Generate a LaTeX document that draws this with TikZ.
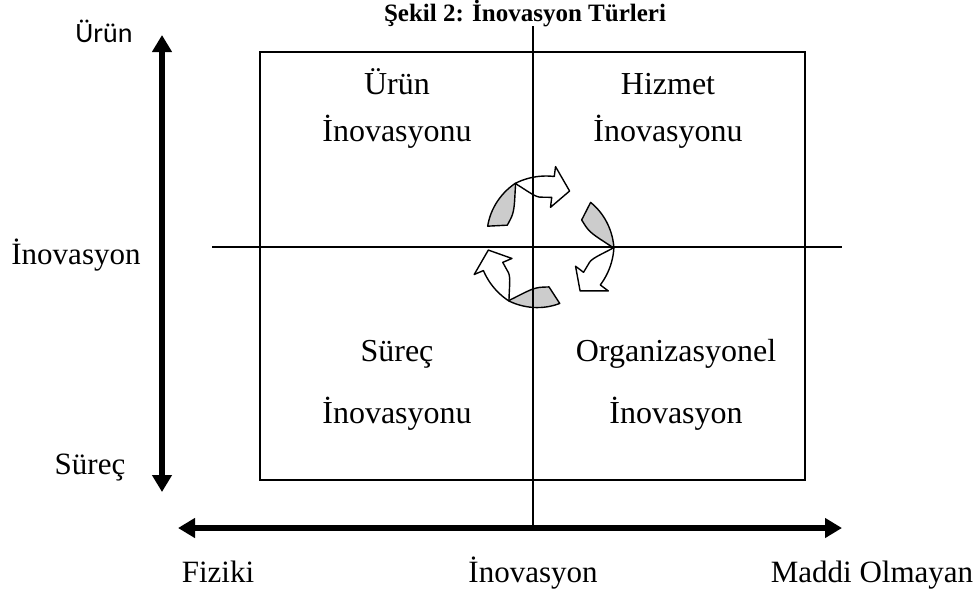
\documentclass[tikz,border=0pt]{standalone}
\usepackage{fontspec}
\setmainfont{Liberation Serif}
\newfontfamily\sanslabel{Carlito}
\usetikzlibrary{arrows.meta}

\begin{document}
\begin{tikzpicture}[x=1pt,y=-1pt,
   lbl/.style={font=\fontsize{31}{37}\selectfont,anchor=base,inner sep=0pt},
   qlbl/.style={lbl,font=\fontsize{32}{38}\selectfont},
   divider/.style={line width=1.5pt},
   axis/.style={line width=5.5pt,{Triangle[width=19pt,length=17pt]}-{Triangle[width=19pt,length=17pt]}},
   back/.style={fill=black!20,draw,line width=1.4pt,line join=round},
   front/.style={fill=white,draw,line width=1.4pt,line join=round}]
\useasboundingbox (0,0) rectangle (979,590);
% title and quadrant box
\node[font=\bfseries\fontsize{25}{30}\selectfont,anchor=base,inner sep=0pt] (title) at (525,21) {Şekil 2: İnovasyon Türleri};
\draw[line width=1.8pt] (260,52) rectangle (805,480);
% cycle arrows in the middle
\begin{scope}[shift={(546,244)}]
\foreach \a in {197,317,77} {
   \draw[back] plot[domain=0:46,samples=16,variable=\t] ({\a+\t}:{61+7*\t/46})
      -- plot[domain=46:9,samples=16,variable=\t] ({\a+\t}:{43+24*((\t-9)/37)^3}) -- cycle;
   \draw[front] plot[domain=46:80,samples=12,variable=\t] ({\a+\t}:68)
      -- (\a+80:78) -- (\a+97:58) -- (\a+80:37) -- (\a+80:47)
      -- plot[domain=68:46,samples=12,variable=\t] ({\a+\t}:{47+21*((68-\t)/22)^2}) -- cycle;
}
\end{scope}
% axes
\coordinate (vtop) at (533,26);
\coordinate (vbot) at (533,525);
\coordinate (hleft) at (212,247);
\coordinate (hright) at (842,247);
\draw[divider] (vtop) -- (vbot);
\draw[divider] (hleft) -- (hright);
\coordinate (up) at (162,35);
\coordinate (down) at (162,492);
\coordinate (west) at (178,528);
\coordinate (east) at (842,528);
\draw[axis] (up) -- (down);
\draw[axis] (west) -- (east);
% labels
\node[anchor=base,inner sep=0pt,font=\sanslabel\fontsize{28}{32}\selectfont] (urunlbl) at (104,42) {Ürün};
\foreach \x/\y/\n/\t in {%
   76/264/inolbl/İnovasyon,90/474/surlbl/Süreç,
   218/582/fiz/Fiziki,533/582/ino/İnovasyon,872/582/mad/Maddi Olmayan} {
   \node[lbl] (\n) at (\x,\y) {\t};
}
\foreach \x/\y/\n/\t in {%
   397/94/q1a/Ürün,397/141/q1b/İnovasyonu,
   668/94/q2a/Hizmet,668/141/q2b/İnovasyonu,
   397/361/q3a/Süreç,397/423/q3b/İnovasyonu,
   676/361/q4a/Organizasyonel,676/423/q4b/İnovasyon} {
   \node[qlbl] (\n) at (\x,\y) {\t};
}
\end{tikzpicture}
\end{document}
